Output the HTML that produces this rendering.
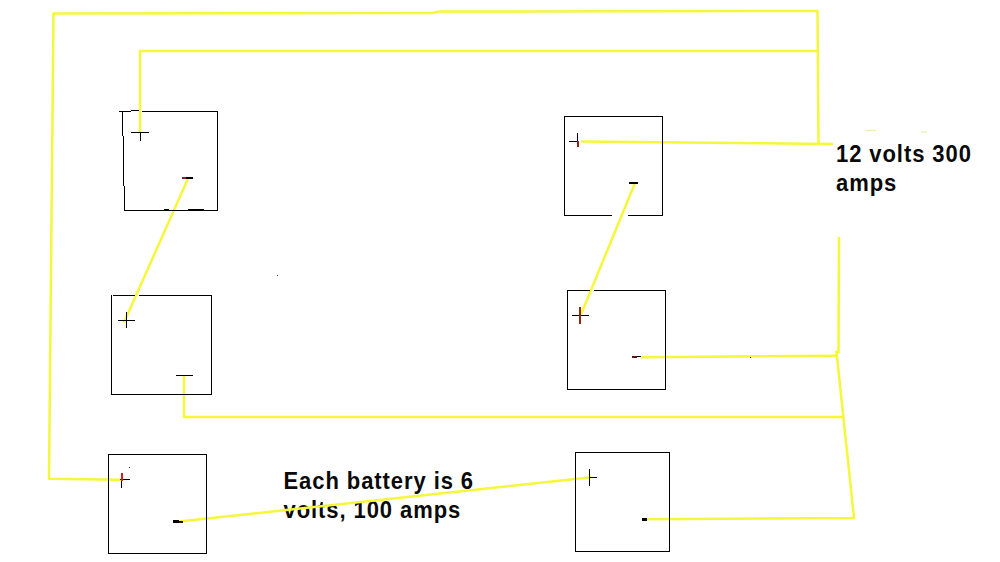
<!DOCTYPE html>
<html><head><meta charset="utf-8">
<style>
html,body{margin:0;padding:0;background:#fff;width:1000px;height:562px;overflow:hidden;position:relative}
svg{position:absolute;left:0;top:0}
.t{position:absolute;font-family:"Liberation Sans",sans-serif;font-weight:bold;font-size:22px;color:#0a0a0a;white-space:pre;line-height:27px;letter-spacing:0.92px;transform:scaleY(1.06);transform-origin:0 0}
</style></head><body>
<div class="t" style="left:836px;top:139.5px">12 volts 300
amps</div>
<div class="t" style="left:283.5px;top:466.5px">Each battery is 6
volts, 100 amps</div>
<svg width="1000" height="562" viewBox="0 0 1000 562">
<!-- yellow wires -->
<g fill="none" stroke="#f6f63a" stroke-width="2.5" stroke-linejoin="miter" stroke-linecap="butt">
<polyline points="121,479.7 49,478.7 51.3,240 53.5,13.5 432,13 440,11.5 817.5,11 818.5,143.5"/>
<polyline points="140,133 140,51 818,51"/>
<polyline points="581,141.5 833,144"/>
<polyline points="839,237 838.5,352 836.5,352 854,518 646.5,519.3"/>
<polyline points="640.5,357.3 837,355.8"/>
<polyline points="184,375 184,417 843,417"/>
<line x1="188.5" y1="177.5" x2="124" y2="322.5"/>
<line x1="635" y1="183" x2="581" y2="314.5"/>
<line x1="866" y1="130.5" x2="876" y2="130.5" stroke="#eef2a8" stroke-width="1.5"/>
<line x1="921" y1="132" x2="927" y2="132" stroke="#eef2b8" stroke-width="1.5"/>
<line x1="179.2" y1="521.5" x2="591.4" y2="477.2"/>
</g>
<!-- black boxes -->
<g fill="none" stroke="#000" stroke-width="1" shape-rendering="crispEdges">
<!-- B1 -->
<path d="M119,111.5H131M131,110.5H139M142,111.5H218M217.5,111V211M218,210.5H124M122.5,111V136M123.5,136V186M124.5,186V211"/>
<!-- B2 -->
<path d="M564,116.5H663M662.5,116V216M663,215.5H628M612,215.5H564M564.5,116V216"/>
<!-- B3 -->
<path d="M113,295.5H135M139,295.5H212M211.5,295V395M212,394.5H111M111.5,295V395"/>
<!-- B4 -->
<path d="M567,290.5H590M594,290.5H666M665.5,290V390M666,389.5H567M567.5,290V390"/>
<!-- B5 -->
<path d="M108,454.5H207M206.5,454V554M207,553.5H108M108.5,454V554"/>
<!-- B6 -->
<path d="M575,452.5H670M669.5,452V552M670,551.5H575M575.5,452V552"/>
<!-- plus signs -->
<path d="M131,132.5H149M140.5,132V141"/>
<path d="M569,141.5H578M577.5,133V141"/>
<path d="M118,320.5H135M126.5,312V328"/>
<path d="M572,315.5H589M579.5,307V324"/>
<path d="M120,479.5H130M121.5,481V488"/>
<path d="M589,477.5H597M589.5,469V486"/>
<!-- minus -->
<path d="M176,375.5H193"/>

</g>
<g shape-rendering="crispEdges">
<rect x="577" y="141" width="2" height="6" fill="#9a2414"/>
<rect x="579" y="307" width="2" height="17" fill="#8b2a1a"/>
<rect x="121" y="473" width="2" height="8" fill="#d42020"/>
<rect x="182" y="177" width="4" height="2" fill="#8a2030"/>
<rect x="186" y="177" width="7" height="2" fill="#000"/>
<rect x="629" y="182" width="9" height="2" fill="#000"/>
<rect x="173" y="520" width="6" height="3" fill="#000"/>
<rect x="179" y="521" width="4" height="2" fill="#2a0a00"/>
<rect x="642" y="518" width="5" height="3" fill="#000"/>
<rect x="164" y="209" width="5" height="1" fill="#000"/>
<rect x="188" y="209" width="16" height="1" fill="#000"/>
<rect x="750" y="357" width="1" height="1" fill="#111"/>
<rect x="632" y="356" width="5" height="2" fill="#5a1a10"/>
<rect x="637" y="356" width="4" height="1" fill="#000"/>
<rect x="129" y="467" width="1" height="1" fill="#222"/>
<rect x="277" y="275" width="1" height="1" fill="#333"/>
</g>

</svg>
</body></html>
